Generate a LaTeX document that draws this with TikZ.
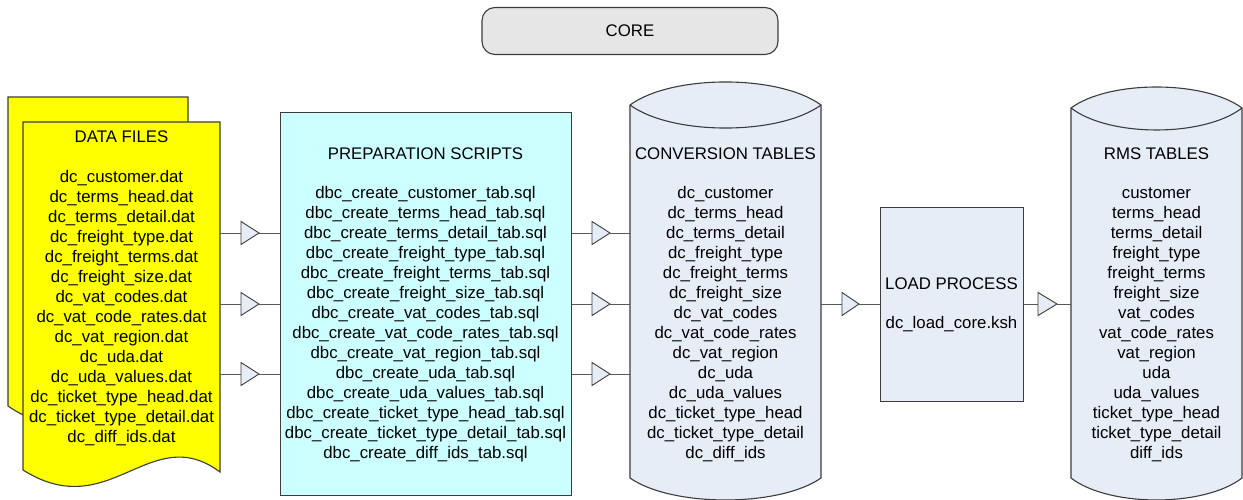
\documentclass[tikz,border=0pt]{standalone}
\usepackage{fontspec}
\setmainfont{Liberation Sans}
\definecolor{docyellow}{RGB}{255,255,0}
\definecolor{prepfill}{RGB}{204,255,255}
\definecolor{cylfill}{RGB}{231,237,247}
\definecolor{coregray}{RGB}{230,230,230}
\definecolor{edgegray}{RGB}{60,60,60}
\begin{document}
\begin{tikzpicture}[x=1pt,y=-1pt,
  every node/.style={font=\fontsize{16.8}{20}\selectfont, align=center, inner sep=0pt},
  shapeline/.style={draw=edgegray, line width=1.1pt, line join=miter},
  conn/.style={draw=black!65, line width=0.9pt},
  tri/.style={draw=edgegray, line width=0.9pt, fill=cylfill, line join=miter},
  region/.style={inner sep=0pt, anchor=north west}]
\useasboundingbox (0,0) rectangle (1243,500);

% CORE
\node[shapeline, fill=coregray, rounded corners=13pt, minimum width=296pt, minimum height=47pt] (core) at (630,31) {CORE};

% DATA FILES (document stack)
\node[region, minimum width=197pt, minimum height=348pt] (df) at (23,122) {};
\filldraw[shapeline, fill=docyellow] (8,97) -- (188,97) -- (188,408) .. controls (124,356) and (87,461) .. (8,406) -- cycle;
\filldraw[shapeline, fill=docyellow] (23,122) -- (220,122) -- (220,472) .. controls (150,420) and (110,525) .. (23,470) -- cycle;
\node (dftext) at (121.5,288.5) {DATA FILES\\[20pt]
dc\_customer.dat\\ dc\_terms\_head.dat\\ dc\_terms\_detail.dat\\ dc\_freight\_type.dat\\
dc\_freight\_terms.dat\\ dc\_freight\_size.dat\\ dc\_vat\_codes.dat\\ dc\_vat\_code\_rates.dat\\
dc\_vat\_region.dat\\ dc\_uda.dat\\ dc\_uda\_values.dat\\ dc\_ticket\_type\_head.dat\\
dc\_ticket\_type\_detail.dat\\ dc\_diff\_ids.dat};

% PREPARATION SCRIPTS
\node[region, shapeline, fill=prepfill, minimum width=291pt, minimum height=383pt] (prep) at (280,112) {};
\node (preptext) at (425.5,304.5) {PREPARATION SCRIPTS\\[19pt]
dbc\_create\_customer\_tab.sql\\ dbc\_create\_terms\_head\_tab.sql\\ dbc\_create\_terms\_detail\_tab.sql\\
dbc\_create\_freight\_type\_tab.sql\\ dbc\_create\_freight\_terms\_tab.sql\\ dbc\_create\_freight\_size\_tab.sql\\
dbc\_create\_vat\_codes\_tab.sql\\ dbc\_create\_vat\_code\_rates\_tab.sql\\ dbc\_create\_vat\_region\_tab.sql\\
dbc\_create\_uda\_tab.sql\\ dbc\_create\_uda\_values\_tab.sql\\ dbc\_create\_ticket\_type\_head\_tab.sql\\
dbc\_create\_ticket\_type\_detail\_tab.sql\\ dbc\_create\_diff\_ids\_tab.sql};

% CONVERSION TABLES (cylinder)
\node[region, minimum width=191pt, minimum height=418pt] (conv) at (630,82) {};
\filldraw[shapeline, fill=cylfill] (630,105) .. controls (672,74.3) and (779,74.3) .. (821,105) -- (821,478) .. controls (779,507.3) and (672,507.3) .. (630,478) -- cycle;
\draw[shapeline] (630,105) .. controls (672,135.7) and (779,135.7) .. (821,105);
\node (convtext) at (725.5,304.5) {CONVERSION TABLES\\[19pt]
dc\_customer\\ dc\_terms\_head\\ dc\_terms\_detail\\ dc\_freight\_type\\ dc\_freight\_terms\\
dc\_freight\_size\\ dc\_vat\_codes\\ dc\_vat\_code\_rates\\ dc\_vat\_region\\ dc\_uda\\
dc\_uda\_values\\ dc\_ticket\_type\_head\\ dc\_ticket\_type\_detail\\ dc\_diff\_ids};

% LOAD PROCESS
\node[region, shapeline, fill=cylfill, minimum width=143pt, minimum height=194pt] (load) at (880,207) {};
\node (loadtext) at (951.5,305) {LOAD PROCESS\\[19pt] dc\_load\_core.ksh};

% RMS TABLES (cylinder)
\node[region, minimum width=171pt, minimum height=413pt] (rms) at (1071,87) {};
\filldraw[shapeline, fill=cylfill] (1071,108) .. controls (1109,80) and (1204,80) .. (1242,108) -- (1242,478) .. controls (1204,507.3) and (1109,507.3) .. (1071,478) -- cycle;
\draw[shapeline] (1071,108) .. controls (1109,137.3) and (1204,137.3) .. (1242,108);
\node (rmstext) at (1156.5,304.5) {RMS TABLES\\[19pt]
customer\\ terms\_head\\ terms\_detail\\ freight\_type\\ freight\_terms\\
freight\_size\\ vat\_codes\\ vat\_code\_rates\\ vat\_region\\ uda\\
uda\_values\\ ticket\_type\_head\\ ticket\_type\_detail\\ diff\_ids};

% Connectors data files -> preparation -> conversion
\foreach \yy [count=\i] in {233,304,374} {
  \coordinate (a\i) at (241,\yy);
  \coordinate (b\i) at (259,\yy);
  \draw[conn] (df.east |- a\i) -- (a\i);
  \draw[tri] (b\i) -- ([yshift=11.5pt]a\i) -- ([yshift=-11.5pt]a\i) -- cycle;
  \draw[conn] (b\i) -- (prep.west |- b\i);
  \coordinate (c\i) at (592,\yy);
  \coordinate (d\i) at (610,\yy);
  \draw[conn] (prep.east |- c\i) -- (c\i);
  \draw[tri] (d\i) -- ([yshift=11.5pt]c\i) -- ([yshift=-11.5pt]c\i) -- cycle;
  \draw[conn] (d\i) -- (conv.west |- d\i);
}

% conversion -> load
\coordinate (e1) at (842,304);
\coordinate (f1) at (859,304);
\draw[conn] (conv.east |- e1) -- (e1);
\draw[tri] (f1) -- ([yshift=11.5pt]e1) -- ([yshift=-11.5pt]e1) -- cycle;
\draw[conn] (f1) -- (load.west |- f1);

% load -> rms
\coordinate (g1) at (1038,304);
\coordinate (h1) at (1057,304);
\draw[conn] (load.east |- g1) -- (g1);
\draw[tri] (h1) -- ([yshift=11.5pt]g1) -- ([yshift=-11.5pt]g1) -- cycle;
\draw[conn] (h1) -- (rms.west |- h1);
\end{tikzpicture}
\end{document}
